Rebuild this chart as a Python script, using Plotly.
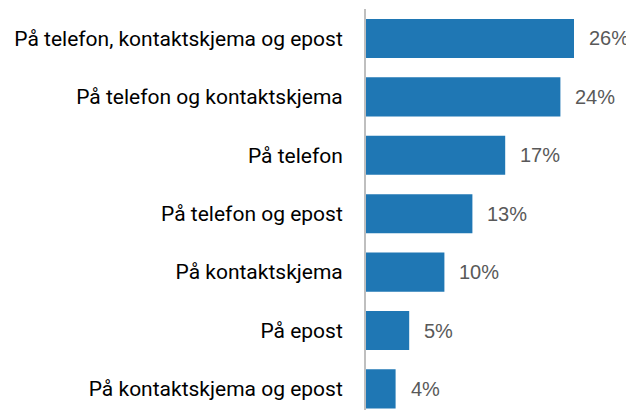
import plotly.graph_objects as go

categories = [
    "På telefon, kontaktskjema og epost",
    "På telefon og kontaktskjema",
    "På telefon",
    "På telefon og epost",
    "På kontaktskjema",
    "På epost",
    "På kontaktskjema og epost",
]
values = [26.0, 24.3, 17.4, 13.3, 9.8, 5.4, 3.7]
labels = ["26%", "24%", "17%", "13%", "10%", "5%", "4%"]

fig = go.Figure()
fig.add_trace(go.Bar(
    y=categories, x=values, orientation="h",
    marker=dict(color="#1f77b4", line=dict(width=0)),
    hoverinfo="skip",
))
for c, v, t in zip(categories, values, labels):
    fig.add_annotation(x=v, y=c, text=t, showarrow=False, xanchor="left",
                       xshift=13, font=dict(family="Liberation Sans", size=20, color="#595959"))

# page body has an 8px default margin, so the figure is sized to fit the window
fig.update_layout(
    width=626, height=402,
    margin=dict(l=358, r=0, t=1, b=0, autoexpand=False),
    plot_bgcolor="white", paper_bgcolor="white",
    bargap=0.33, showlegend=False,
    font=dict(family="Roboto", size=21, color="#000000"),
    xaxis=dict(range=[0, 33.5], visible=False, fixedrange=True, automargin=False),
    yaxis=dict(type="category", range=[6.361, -0.505], showline=True,
               linecolor="#bfbfbf", linewidth=2, ticks="", ticklabelstandoff=17,
               showgrid=False, fixedrange=True, automargin=False),
)
fig.write_html("out.html")
